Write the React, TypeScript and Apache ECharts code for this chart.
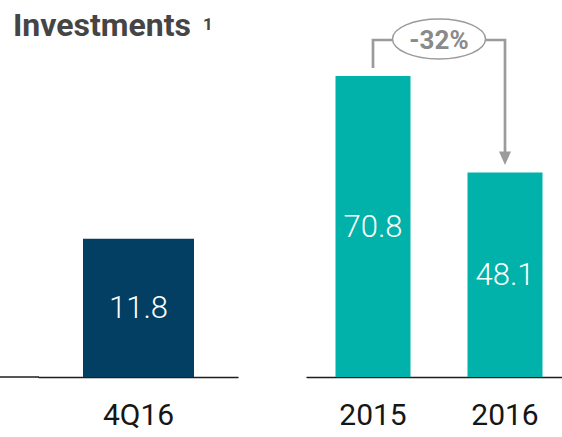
import React, { useEffect, useRef } from "react";
import * as echarts from "echarts";

const quarterCategories = ["4Q16"];
const quarterValues = [11.8];
const yearCategories = ["2015", "2016"];
const yearValues = [70.8, 48.1];
const titleText = "Investments";
const footnoteMark = "1";

const NAVY = "#023f62";
const TEAL = "#00b2a9";
const GREY = "#9b9b9b";
const FONT = "Roboto, 'Noto Sans', sans-serif";

export default function App() {
  const ref = useRef<HTMLDivElement>(null);

  useEffect(() => {
    if (!ref.current) return;
    const chart = echarts.init(ref.current, undefined, { renderer: "svg" });

    const valueLabel = {
      show: true,
      position: "inside",
      color: "#ffffff",
      fontSize: 31,
      fontWeight: 300,
      fontFamily: FONT,
      formatter: (p: any) => Number(p.value).toFixed(1),
    };
    const catLabel = {
      fontSize: 30,
      color: "#161616",
      fontFamily: FONT,
      margin: 22,
    };
    const axisLine = { show: true, lineStyle: { color: "#1e1e1e", width: 1.3 } };

    chart.setOption({
      animation: false,
      title: {
        text: titleText,
        left: 13,
        top: 9,
        padding: 0,
        textStyle: { fontSize: 32, fontWeight: "bold", color: "#454545", fontFamily: FONT },
      },
      grid: [
        { left: 39, width: 199, top: 37, height: 340 },
        { left: 307, width: 264, top: 37, height: 340 },
      ],
      xAxis: [
        {
          type: "category",
          gridIndex: 0,
          data: quarterCategories,
          axisLine,
          axisTick: { show: false },
          axisLabel: catLabel,
        },
        {
          type: "category",
          gridIndex: 1,
          data: yearCategories,
          axisLine,
          axisTick: { show: false },
          axisLabel: catLabel,
        },
      ],
      yAxis: [
        { type: "value", gridIndex: 0, min: 0, max: 29, show: false, splitLine: { show: false } },
        { type: "value", gridIndex: 1, min: 0, max: 80, show: false, splitLine: { show: false } },
      ],
      series: [
        {
          type: "bar",
          xAxisIndex: 0,
          yAxisIndex: 0,
          data: quarterValues,
          barWidth: 111,
          itemStyle: { color: NAVY },
          label: valueLabel,
        },
        {
          type: "bar",
          xAxisIndex: 1,
          yAxisIndex: 1,
          data: yearValues,
          barWidth: 75,
          itemStyle: { color: TEAL },
          label: valueLabel,
        },
      ],
    });

    // annotation positions derived from the chart's scales
    const p0 = chart.convertToPixel({ gridIndex: 1 }, [yearCategories[0], yearValues[0]]) as number[];
    const p1 = chart.convertToPixel({ gridIndex: 1 }, [yearCategories[1], yearValues[1]]) as number[];
    const base0 = chart.convertToPixel({ gridIndex: 0 }, [quarterCategories[0], 0]) as number[];
    const leftGridX = 39;
    const pct = Math.round(((yearValues[1] - yearValues[0]) / yearValues[0]) * 100);
    const topY = 40;
    const cx = (p0[0] + p1[0]) / 2;
    const rx = 46.5;
    const ry = 20;

    chart.setOption({
      graphic: [
        {
          type: "line",
          shape: { x1: 0, y1: base0[1], x2: leftGridX, y2: base0[1] },
          style: { stroke: "#1e1e1e", lineWidth: 1.3 },
        },
        {
          type: "text",
          x: 203,
          y: 15,
          style: { text: footnoteMark, fontSize: 17, fontWeight: "bold", fill: "#454545", fontFamily: FONT },
        },
        {
          type: "polyline",
          shape: { points: [[p0[0], p0[1] - 8], [p0[0], topY], [cx - rx, topY]] },
          style: { stroke: GREY, lineWidth: 2.7, fill: null },
        },
        {
          type: "polyline",
          shape: { points: [[cx + rx, topY], [p1[0], topY], [p1[0], p1[1] - 20]] },
          style: { stroke: GREY, lineWidth: 2.7, fill: null },
        },
        {
          type: "polygon",
          shape: {
            points: [
              [p1[0] - 6, p1[1] - 21],
              [p1[0] + 6, p1[1] - 21],
              [p1[0], p1[1] - 7.5],
            ],
          },
          style: { fill: GREY },
        },
        {
          type: "ellipse",
          shape: { cx, cy: topY - 1, rx, ry },
          style: { fill: "#ffffff", stroke: GREY, lineWidth: 1.5 },
        },
        {
          type: "text",
          x: cx,
          y: topY,
          style: {
            text: `${pct}%`,
            fontSize: 26,
            fontWeight: "bold",
            fill: "#8a8a8a",
            fontFamily: FONT,
            align: "center",
            verticalAlign: "middle",
          },
        },
      ],
    });

    return () => chart.dispose();
  }, []);

  return (
    <div
      style={{
        position: "fixed",
        left: 0,
        top: 0,
        width: 562,
        height: 437,
        overflow: "hidden",
        background: "#ffffff",
      }}
    >
      <div ref={ref} style={{ width: 575, height: 437 }} />
    </div>
  );
}
